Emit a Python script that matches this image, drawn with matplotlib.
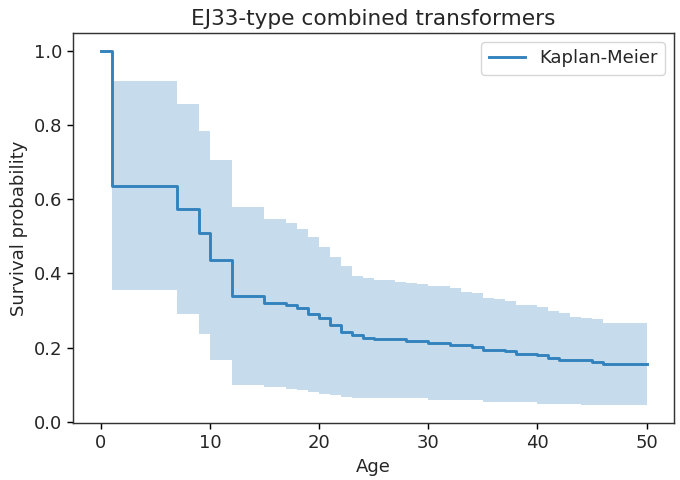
import matplotlib
matplotlib.use("Agg")
import matplotlib.pyplot as plt

# Kaplan-Meier estimate (step times, survival, CI)
times = [0, 1, 7, 9, 10, 12, 15, 17, 18, 19, 20, 21, 22, 23, 24, 25, 27, 28,
         29, 30, 32, 33, 34, 35, 36, 37, 38, 40, 41, 42, 43, 44, 45, 46, 50]
survival = [1.0, 0.635, 0.573, 0.509, 0.436, 0.340, 0.320, 0.315, 0.306, 0.292,
            0.279, 0.262, 0.242, 0.233, 0.226, 0.222, 0.222, 0.217, 0.217, 0.213,
            0.208, 0.208, 0.202, 0.195, 0.195, 0.190, 0.184, 0.179, 0.173, 0.168,
            0.168, 0.168, 0.162, 0.155, 0.155]
ci_upper = [1.0, 0.920, 0.858, 0.785, 0.706, 0.579, 0.546, 0.535, 0.521, 0.498,
            0.472, 0.444, 0.419, 0.394, 0.387, 0.381, 0.376, 0.374, 0.371, 0.367,
            0.360, 0.351, 0.347, 0.333, 0.330, 0.326, 0.314, 0.310, 0.298, 0.294,
            0.283, 0.281, 0.278, 0.266, 0.266]
ci_lower = [1.0, 0.355, 0.290, 0.236, 0.166, 0.098, 0.094, 0.088, 0.086, 0.081,
            0.076, 0.072, 0.066, 0.065, 0.065, 0.065, 0.065, 0.065, 0.065, 0.059,
            0.059, 0.059, 0.059, 0.054, 0.054, 0.054, 0.054, 0.049, 0.049, 0.049,
            0.049, 0.045, 0.045, 0.045, 0.045]

# the reference was drawn at a larger scale than 100 dpi
s = 1.3
plt.rcParams.update({
    "font.size": 10 * s,
    "axes.linewidth": 0.8 * s,
    "axes.edgecolor": "#333333",
    "xtick.major.size": 3.5 * s,
    "ytick.major.size": 3.5 * s,
    "xtick.major.width": 0.8 * s,
    "ytick.major.width": 0.8 * s,
    "text.color": "#262626",
    "xtick.labelcolor": "#262626",
    "ytick.labelcolor": "#262626",
    "axes.labelcolor": "#262626",
})

fig = plt.figure(figsize=(6.8, 4.8), dpi=100)
ax = fig.add_axes([0.108, 0.119, 0.883, 0.812])

ax.fill_between(times, ci_lower, ci_upper, step="post", color="#1f77b4",
                alpha=0.25, linewidth=0)
ax.plot(times, survival, drawstyle="steps-post", color="#3282bd",
        linewidth=1.6 * s, label="Kaplan-Meier")

ax.set_title("EJ33-type combined transformers", fontsize=12 * s)
ax.set_xlabel("Age")
ax.set_ylabel("Survival probability")
ax.set_xticks([0, 10, 20, 30, 40, 50])
ax.set_yticks([0.0, 0.2, 0.4, 0.6, 0.8, 1.0])
ax.legend(loc="upper right")

fig.savefig("out.png", dpi=100)
